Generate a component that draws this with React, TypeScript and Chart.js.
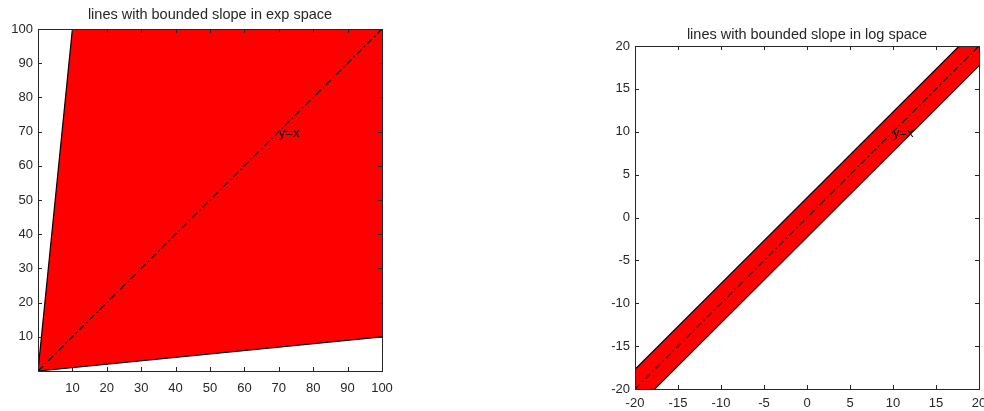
import React, { useEffect, useRef } from "react";
import { Chart, registerables } from "chart.js";

Chart.register(...registerables);

// Left panel: lines through the origin with slopes 10 and 1/10, plus y = x
const expX = [0, 100];
const expSteep = [0, 1000];
const expShallow = [0, 10];
const expIdentity = [0, 100];
const expTicks = [10, 20, 30, 40, 50, 60, 70, 80, 90, 100];

// Right panel: the same lines after taking logs (offsets of ±ln 10)
const logX = [-20, 20];
const logUpper = [-17.6974, 22.3026];
const logLower = [-22.3026, 17.6974];
const logIdentity = [-20, 20];
const logTicks = [-20, -15, -10, -5, 0, 5, 10, 15, 20];

const titles = ["lines with bounded slope in exp space", "lines with bounded slope in log space"];
const noteText = "y=x";
const notePos = [
  [70, 70],
  [10, 10],
];

const INK = "#262626";
const FONT = '"Liberation Sans", Arial, Helvetica, sans-serif';

const framePlugin = {
  id: "frame",
  afterDatasetsDraw(chart: any, _args: any, opts: any) {
    const { ctx, chartArea } = chart;
    const { left, right, top, bottom } = chartArea;
    const xs = chart.scales.x;
    const ys = chart.scales.y;
    const tl = 4;
    ctx.save();
    ctx.strokeStyle = INK;
    ctx.lineWidth = 1;
    ctx.beginPath();
    for (const t of xs.ticks) {
      const px = Math.round(xs.getPixelForValue(t.value)) + 0.5;
      ctx.moveTo(px, bottom);
      ctx.lineTo(px, bottom - tl);
      ctx.moveTo(px, top);
      ctx.lineTo(px, top + tl);
    }
    for (const t of ys.ticks) {
      const py = Math.round(ys.getPixelForValue(t.value)) + 0.5;
      ctx.moveTo(left, py);
      ctx.lineTo(left + tl, py);
      ctx.moveTo(right, py);
      ctx.lineTo(right - tl, py);
    }
    ctx.stroke();
    ctx.strokeRect(left + 0.5, top + 0.5, right - left, bottom - top);

    // annotation for the identity line
    ctx.fillStyle = "#000";
    ctx.font = `13px ${FONT}`;
    ctx.textAlign = "left";
    ctx.textBaseline = "middle";
    ctx.fillText(opts.note, xs.getPixelForValue(opts.noteX), ys.getPixelForValue(opts.noteY) + 1.5);

    // panel title
    ctx.fillStyle = INK;
    ctx.font = `14.5px ${FONT}`;
    ctx.textAlign = "center";
    ctx.fillText(opts.title, (left + right) / 2, top - opts.titleGap);
    ctx.restore();
  },
};

function pts(xs: number[], ys: number[]) {
  return xs.map((x, i) => ({ x, y: ys[i] }));
}

function makeConfig(p: any): any {
  const tickFont = { family: FONT, size: 13 };
  return {
    type: "line",
    data: {
      datasets: [
        {
          data: pts(p.x, p.upper),
          borderColor: "#000",
          borderWidth: 1.2,
          pointRadius: 0,
          fill: "+1",
          backgroundColor: "#ff0000",
          tension: 0,
        },
        {
          data: pts(p.x, p.lower),
          borderColor: "#000",
          borderWidth: 1.2,
          pointRadius: 0,
          fill: false,
          tension: 0,
        },
        {
          data: pts(p.x, p.identity),
          borderColor: "#000",
          borderWidth: 1.2,
          borderDash: [7, 3, 1.5, 3],
          pointRadius: 0,
          fill: false,
          tension: 0,
        },
      ],
    },
    options: {
      responsive: false,
      animation: false,
      devicePixelRatio: 1,
      layout: { padding: p.padding },
      plugins: {
        legend: { display: false },
        title: { display: false },
        tooltip: { enabled: false },
        filler: { drawTime: "beforeDatasetsDraw" },
        frame: {
          title: p.title,
          note: noteText,
          noteX: p.note[0],
          noteY: p.note[1],
          titleGap: p.titleGap,
        },
      },
      scales: {
        x: {
          type: "linear",
          min: p.min,
          max: p.max,
          grid: { display: false, drawTicks: false },
          border: { display: false },
          afterBuildTicks: (s: any) => {
            s.ticks = p.ticks.map((v: number) => ({ value: v }));
          },
          afterFit: (s: any) => {
            s.height = p.xHeight;
            s.paddingLeft = 0;
            s.paddingRight = 0;
          },
          ticks: {
            color: INK,
            font: tickFont,
            padding: p.xPad,
            autoSkip: false,
            maxRotation: 0,
            minRotation: 0,
          },
        },
        y: {
          type: "linear",
          min: p.min,
          max: p.max,
          grid: { display: false, drawTicks: false },
          border: { display: false },
          afterBuildTicks: (s: any) => {
            s.ticks = p.ticks.map((v: number) => ({ value: v }));
          },
          afterFit: (s: any) => {
            s.width = 38;
            s.paddingTop = 0;
            s.paddingBottom = 0;
          },
          ticks: {
            color: INK,
            font: tickFont,
            padding: 5,
            autoSkip: false,
          },
        },
      },
    },
    plugins: [framePlugin],
  };
}

function Panel({ cfg, left }: { cfg: any; left: number }) {
  const ref = useRef<HTMLCanvasElement | null>(null);
  useEffect(() => {
    if (!ref.current) return;
    const chart = new Chart(ref.current, makeConfig(cfg));
    return () => chart.destroy();
  }, []);
  return (
    <canvas
      ref={ref}
      width={492}
      height={411}
      style={{ position: "absolute", left, top: 0, width: 492, height: 411 }}
    />
  );
}

export default function App() {
  const expCfg = {
    x: expX,
    upper: expSteep,
    lower: expShallow,
    identity: expIdentity,
    ticks: expTicks,
    min: 0,
    max: 100,
    title: titles[0],
    note: notePos[0],
    padding: { left: 0, right: 110, top: 29, bottom: 0 },
    xHeight: 40,
    xPad: 10,
    titleGap: 14,
  };
  const logCfg = {
    x: logX,
    upper: logUpper,
    lower: logLower,
    identity: logIdentity,
    ticks: logTicks,
    min: -20,
    max: 20,
    title: titles[1],
    note: notePos[1],
    padding: { left: 105, right: 5, top: 46, bottom: 0 },
    xHeight: 22,
    xPad: 7,
    titleGap: 11,
  };
  return (
    <div
      style={{
        position: "fixed",
        left: 0,
        top: 0,
        width: 984,
        height: 411,
        background: "#fff",
        overflow: "hidden",
      }}
    >
      <Panel cfg={expCfg} left={0} />
      <Panel cfg={logCfg} left={492} />
    </div>
  );
}
